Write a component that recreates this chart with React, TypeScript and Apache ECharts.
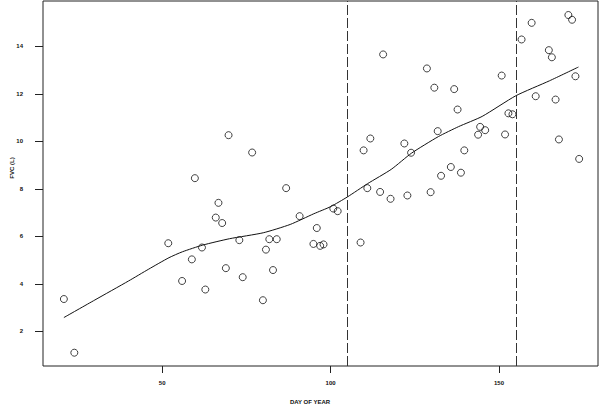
import React, { useEffect, useRef } from "react";
import * as echarts from "echarts";

const days = [20.8, 23.9, 51.8, 55.9, 58.8, 59.7, 61.8, 62.8, 65.9, 66.7, 67.8, 68.9, 69.7, 72.9, 73.9, 76.7, 79.9, 80.8, 81.8, 82.9, 84.0, 86.8, 90.8, 94.9, 95.9, 96.9, 97.9, 100.8, 102.1, 108.9, 109.8, 110.9, 111.8, 114.7, 115.6, 117.8, 121.9, 122.8, 123.9, 128.6, 129.7, 130.8, 131.8, 132.8, 135.7, 136.7, 137.7, 138.7, 139.7, 143.8, 144.4, 145.9, 150.8, 151.8, 152.8, 154.0, 156.7, 159.7, 160.9, 164.8, 165.7, 166.8, 167.8, 170.6, 171.7, 172.7, 173.8];
const fvc = [3.36, 1.1, 5.71, 4.12, 5.03, 8.45, 5.53, 3.76, 6.79, 7.41, 6.56, 4.66, 10.26, 5.84, 4.28, 9.53, 3.31, 5.44, 5.88, 4.58, 5.88, 8.03, 6.85, 5.68, 6.35, 5.6, 5.66, 7.17, 7.06, 5.74, 9.62, 8.03, 10.12, 7.87, 13.66, 7.58, 9.91, 7.72, 9.52, 13.07, 7.86, 12.26, 10.43, 8.55, 8.92, 12.2, 11.34, 8.68, 9.62, 10.28, 10.61, 10.47, 12.77, 10.29, 11.18, 11.14, 14.29, 14.99, 11.9, 13.84, 13.54, 11.76, 10.08, 15.32, 15.12, 12.74, 9.26];

const curveDays = [20.8, 30, 40, 46, 52, 56, 62, 70, 80, 88, 95, 100, 105, 111, 118, 124, 132, 138, 145, 155, 165, 173.6];
const curveFvc = [2.58, 3.32, 4.12, 4.62, 5.1, 5.35, 5.63, 5.9, 6.15, 6.5, 6.95, 7.25, 7.66, 8.22, 8.82, 9.5, 10.2, 10.62, 11.05, 11.92, 12.55, 13.13];

const xTicks = [50, 100, 150];
const yTicks = [2, 4, 6, 8, 10, 12, 14];
const breakDays = [105, 155];

const FONT = "'Liberation Sans', Arial, sans-serif";

export default function App() {
  const ref = useRef<HTMLDivElement>(null);
  useEffect(() => {
    if (!ref.current) return;
    const chart = echarts.init(ref.current, null, { renderer: "svg" });
    chart.setOption({
      animation: false,
      backgroundColor: "#fff",
      grid: {
        left: 43,
        right: 2,
        top: 1,
        bottom: 39,
        show: true,
        borderColor: "#222",
        borderWidth: 1,
        backgroundColor: "transparent",
      },
      xAxis: {
        type: "value",
        min: 14.6,
        max: 179.4,
        splitLine: { show: false },
        axisLine: { show: false },
        axisTick: { show: true, length: 7, customValues: xTicks, lineStyle: { color: "#222" } },
        axisLabel: {
          customValues: xTicks,
          margin: 14,
          fontSize: 6,
          fontWeight: "bold",
          color: "#111",
          fontFamily: FONT,
        },
      },
      yAxis: {
        type: "value",
        min: 0.54,
        max: 15.91,
        splitLine: { show: false },
        axisLine: { show: false },
        axisTick: { show: true, length: 8, customValues: yTicks, lineStyle: { color: "#222" } },
        axisLabel: {
          customValues: yTicks,
          margin: 20,
          fontSize: 6,
          fontWeight: "bold",
          color: "#111",
          fontFamily: FONT,
        },
      },
      graphic: [
        {
          type: "text",
          x: 310,
          y: 402,
          style: {
            text: "DAY OF YEAR",
            fontSize: 6,
            fontWeight: "bold",
            fontFamily: FONT,
            fill: "#111",
            align: "center",
            verticalAlign: "middle",
          },
        },
        {
          type: "text",
          x: 12,
          y: 168,
          rotation: Math.PI / 2,
          style: {
            text: "FVC (L)",
            fontSize: 6,
            fontWeight: "bold",
            fontFamily: FONT,
            fill: "#111",
            align: "center",
            verticalAlign: "middle",
          },
        },
      ],
      series: [
        {
          type: "scatter",
          data: days.map((d, i) => [d, fvc[i]]),
          symbol: "circle",
          symbolSize: 7,
          itemStyle: { color: "rgba(0,0,0,0)", borderColor: "#111", borderWidth: 1 },
          silent: true,
        },
        {
          type: "line",
          data: curveDays.map((d, i) => [d, curveFvc[i]]),
          showSymbol: false,
          smooth: 0.2,
          lineStyle: { color: "#111", width: 1 },
          silent: true,
          markLine: {
            silent: true,
            symbol: ["none", "none"],
            label: { show: false },
            lineStyle: { color: "#333", width: 1, type: [10, 3] },
            data: breakDays.map((d) => ({ xAxis: d })),
          },
        },
      ],
    });
    return () => chart.dispose();
  }, []);
  return <div ref={ref} style={{ position: "fixed", left: 0, top: 0, width: 600, height: 405 }} />;
}
